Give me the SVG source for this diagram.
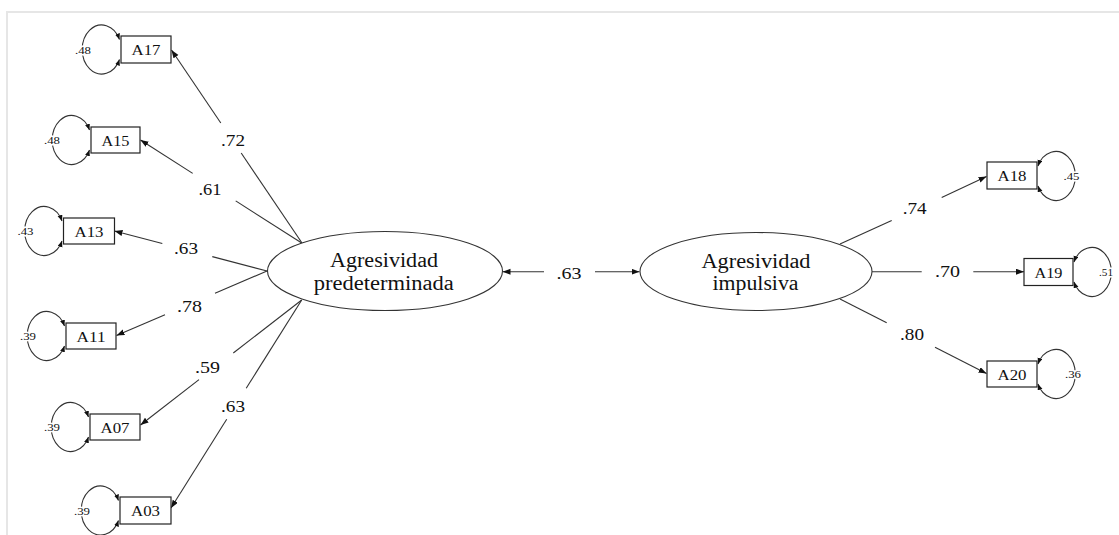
<svg xmlns="http://www.w3.org/2000/svg" width="1119" height="535" viewBox="0 0 1119 535" font-family="'Liberation Serif', 'DejaVu Serif', serif">
<style>
.frame{fill:none;stroke:#e6e6e6;stroke-width:2}
.box{fill:#fff;stroke:#222;stroke-width:1.2}
.lat{fill:#fff;stroke:#333;stroke-width:1.1}
.ln{fill:none;stroke:#333;stroke-width:1.1}
.arr{marker-end:url(#ah)}
.loop{fill:none;stroke:#333;stroke-width:1.1;marker-start:url(#lh);marker-end:url(#lh)}
text{font-family:'Liberation Serif','DejaVu Serif',serif;fill:#111}
.bt{font-size:15px;text-anchor:middle}
.lt{font-size:20px;text-anchor:middle}
.nt{font-size:17px;text-anchor:middle}
.et{font-size:10.5px;text-anchor:middle;stroke:#fff;stroke-width:3;paint-order:stroke}
</style>
<defs>
<marker id="ah" markerUnits="userSpaceOnUse" markerWidth="9" markerHeight="7" refX="8" refY="3" orient="auto"><path d="M0,0 L8,3 L0,6 z" fill="#111"/></marker>
<marker id="lh" markerUnits="userSpaceOnUse" markerWidth="8" markerHeight="6" refX="6" refY="2.5" orient="auto-start-reverse"><path d="M0,0 L6,2.5 L0,5 z" fill="#111"/></marker>
</defs>
<path class="frame" d="M7,535 V12 H1119"/>
<g id="connectors">
<path class="ln" d="M302,243 L241.2,153"/><path class="ln arr" d="M220.8,123 L171.5,50"/>
<path class="ln" d="M301.7,243 L235.7,200.9"/><path class="ln arr" d="M192.7,173.4 L140.5,140"/>
<path class="ln" d="M267,271 L212.3,256.6"/><path class="ln arr" d="M162.3,243.5 L114.5,231"/>
<path class="ln" d="M267,271 L215,293.3"/><path class="ln arr" d="M165,314.7 L116.5,335.5"/>
<path class="ln" d="M301.7,300 L233.3,353"/><path class="ln arr" d="M199,379.6 L140.5,425"/>
<path class="ln" d="M301.7,300 L246.2,388.3"/><path class="ln arr" d="M226.7,419.3 L171,508"/>
<path class="ln arr" d="M544,271.7 L502.5,271.7"/><path class="ln arr" d="M595,271.7 L639.5,271.7"/>
<path class="ln" d="M840,244 L891.7,220.4"/><path class="ln arr" d="M941.7,197.4 L986.5,176.5"/>
<path class="ln" d="M871.7,271.7 L921.7,271.7"/><path class="ln arr" d="M973.3,271.7 L1024,271.7"/>
<path class="ln" d="M840,299 L886.7,322.8"/><path class="ln arr" d="M935,347.3 L986.5,373.5"/>
<text class="nt" x="233" y="146" textLength="24" lengthAdjust="spacingAndGlyphs">.72</text>
<text class="nt" x="210" y="195" textLength="23" lengthAdjust="spacingAndGlyphs">.61</text>
<text class="nt" x="186" y="254" textLength="24" lengthAdjust="spacingAndGlyphs">.63</text>
<text class="nt" x="189.5" y="311.5" textLength="25" lengthAdjust="spacingAndGlyphs">.78</text>
<text class="nt" x="207.5" y="373" textLength="25" lengthAdjust="spacingAndGlyphs">.59</text>
<text class="nt" x="233" y="412" textLength="24" lengthAdjust="spacingAndGlyphs">.63</text>
<text class="nt" x="569" y="278.5" textLength="25" lengthAdjust="spacingAndGlyphs">.63</text>
<text class="nt" x="914.7" y="213.5" textLength="24" lengthAdjust="spacingAndGlyphs">.74</text>
<text class="nt" x="947.5" y="277" textLength="25" lengthAdjust="spacingAndGlyphs">.70</text>
<text class="nt" x="912" y="339.5" textLength="24" lengthAdjust="spacingAndGlyphs">.80</text>
</g>
<g id="lat-predeterminada">
<ellipse class="lat" cx="385" cy="271" rx="117.5" ry="39.5"/>
<text class="lt" x="384" y="267" textLength="108" lengthAdjust="spacingAndGlyphs">Agresividad</text>
<text class="lt" x="383.7" y="290" textLength="140" lengthAdjust="spacingAndGlyphs">predeterminada</text>
</g>
<g id="lat-impulsiva">
<ellipse class="lat" cx="756" cy="271.5" rx="116" ry="39"/>
<text class="lt" x="756" y="267.5" textLength="109" lengthAdjust="spacingAndGlyphs">Agresividad</text>
<text class="lt" x="755.5" y="290" textLength="86" lengthAdjust="spacingAndGlyphs">impulsiva</text>
</g>
<g id="A17">
<path class="loop" d="M119.5,39.5 A19.5 24.5 0 1 0 119.5,59.5"/>
<text class="et" x="83" y="53.5" textLength="16" lengthAdjust="spacingAndGlyphs">.48</text>
<rect class="box" x="121" y="36" width="50" height="27"/>
<text class="bt" x="146" y="55" textLength="29" lengthAdjust="spacingAndGlyphs">A17</text>
</g>
<g id="A15">
<path class="loop" d="M89.5,130 A19.5 24.5 0 1 0 89.5,150"/>
<text class="et" x="52" y="144" textLength="16" lengthAdjust="spacingAndGlyphs">.48</text>
<rect class="box" x="91" y="127" width="49" height="26"/>
<text class="bt" x="115.5" y="145.5" textLength="28" lengthAdjust="spacingAndGlyphs">A15</text>
</g>
<g id="A13">
<path class="loop" d="M62,221 A19.5 24.5 0 1 0 62,241"/>
<text class="et" x="25.5" y="235" textLength="16" lengthAdjust="spacingAndGlyphs">.43</text>
<rect class="box" x="63.5" y="218" width="51" height="26"/>
<text class="bt" x="89" y="236.5" textLength="29" lengthAdjust="spacingAndGlyphs">A13</text>
</g>
<g id="A11">
<path class="loop" d="M64.5,326 A19.5 24.5 0 1 0 64.5,346"/>
<text class="et" x="28" y="340" textLength="16" lengthAdjust="spacingAndGlyphs">.39</text>
<rect class="box" x="66" y="323" width="50" height="26"/>
<text class="bt" x="91" y="341.5" textLength="29" lengthAdjust="spacingAndGlyphs">A11</text>
</g>
<g id="A07">
<path class="loop" d="M88.5,417 A19.5 24.5 0 1 0 88.5,437"/>
<text class="et" x="52" y="431" textLength="16" lengthAdjust="spacingAndGlyphs">.39</text>
<rect class="box" x="90" y="414" width="50" height="26"/>
<text class="bt" x="115" y="432.5" textLength="29" lengthAdjust="spacingAndGlyphs">A07</text>
</g>
<g id="A03">
<path class="loop" d="M118.5,500.5 A19.5 24.5 0 1 0 118.5,520.5"/>
<text class="et" x="82" y="514.5" textLength="16" lengthAdjust="spacingAndGlyphs">.39</text>
<rect class="box" x="120" y="497" width="51" height="27"/>
<text class="bt" x="145.5" y="516" textLength="29" lengthAdjust="spacingAndGlyphs">A03</text>
</g>
<g id="A18">
<path class="loop" d="M1038,166 A19.5 24.5 0 1 1 1038,186"/>
<text class="et" x="1071.5" y="180" textLength="16" lengthAdjust="spacingAndGlyphs">.45</text>
<rect class="box" x="987" y="162" width="50" height="27"/>
<text class="bt" x="1012" y="181" textLength="29" lengthAdjust="spacingAndGlyphs">A18</text>
</g>
<g id="A19">
<path class="loop" d="M1074,262 A19.5 24.5 0 1 1 1074,282"/>
<text class="et" x="1106" y="276" textLength="14" lengthAdjust="spacingAndGlyphs">.51</text>
<rect class="box" x="1024" y="258.5" width="49" height="27"/>
<text class="bt" x="1048.5" y="277.5" textLength="28" lengthAdjust="spacingAndGlyphs">A19</text>
</g>
<g id="A20">
<path class="loop" d="M1038,364 A19.5 24.5 0 1 1 1038,384"/>
<text class="et" x="1073" y="377.5" textLength="16" lengthAdjust="spacingAndGlyphs">.36</text>
<rect class="box" x="987" y="361" width="50" height="26"/>
<text class="bt" x="1012" y="379.5" textLength="29" lengthAdjust="spacingAndGlyphs">A20</text>
</g>
</svg>
